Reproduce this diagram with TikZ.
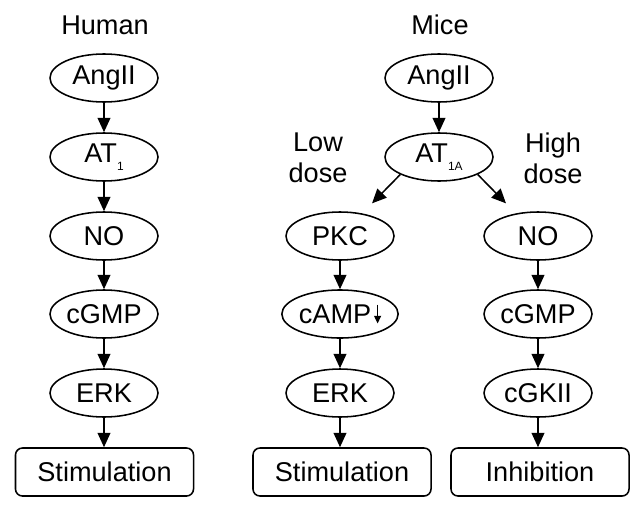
\documentclass[tikz,border=0pt]{standalone}
\usepackage{graphicx}
\usepackage{fontspec}
\setmainfont{Liberation Sans}
\usetikzlibrary{arrows.meta,shapes.geometric}
\def\lowsub#1{\raisebox{-0.55ex}{\fontsize{8.5}{8.5}\selectfont #1}}
\def\downmark{\hspace{2pt}\tikz[baseline=0pt]\draw[line width=0.9pt,-{Triangle[length=5.5pt,width=5pt]}] (0pt,13.5pt) -- (0pt,0pt);}

\begin{document}
\begin{tikzpicture}[x=0.025cm,y=-0.025cm,
  font=\fontsize{19.3}{22}\selectfont,
  oval/.style={draw, line width=1.1pt, shape=ellipse, minimum width=2.7cm, minimum height=1.2cm, inner sep=0pt},
  outcome/.style={draw, line width=1.1pt, rounded corners=5pt, minimum width=4.45cm, minimum height=1.2cm, inner sep=0pt},
  flow/.style={line width=1.1pt, -{Triangle[length=0.36cm,width=0.32cm]}}]
\useasboundingbox (0,0) rectangle (642,513);
% human pathway
\node (human) at (105,25) {Human};
\node[oval] (h_ang) at (104,78) {AngII};
\node[oval] (h_at) at (104,157) {AT\lowsub{1}};
\node[oval] (h_no) at (104,236) {NO};
\node[oval] (h_cgmp) at (104,314) {cGMP};
\node[oval] (h_erk) at (104,393) {ERK};
\node[outcome] (h_stim) at (104.5,472) {Stimulation};
% mouse pathway
\node (mice) at (440,25) {Mice};
\node[oval] (m_ang) at (439,78) {AngII};
\node[oval] (m_at) at (439,157) {AT\lowsub{1A}};
\node[align=center] (low) at (318,158) {Low\\dose};
\node[align=center] (high) at (553,158) {High\\dose};
% low dose branch
\node[oval] (l_pkc) at (340,236) {PKC};
\node[oval] (l_camp) at (340,314) {cAMP\downmark};
\node[oval] (l_erk) at (340,393) {ERK};
\node[outcome] (l_stim) at (342,472) {Stimulation};
% high dose branch
\node[oval] (r_no) at (538,236) {NO};
\node[oval] (r_cgmp) at (538,314) {cGMP};
\node[oval] (r_cgk) at (538,393) {cGKII};
\node[outcome] (r_inh) at (540,472) {Inhibition};

\foreach \a/\b in {h_ang/h_at, h_at/h_no, h_no/h_cgmp, h_cgmp/h_erk, m_ang/m_at,
  l_pkc/l_camp, l_camp/l_erk, r_no/r_cgmp, r_cgmp/r_cgk}
  \draw[flow] (\a) -- (\b);
\draw[flow] (h_erk) -- (h_erk |- h_stim.north);
\draw[flow] (l_erk) -- (l_erk |- l_stim.north);
\draw[flow] (r_cgk) -- (r_cgk |- r_inh.north);
\draw[flow, shorten >=0.35cm] (m_at.south west) -- (l_pkc);
\draw[flow, shorten >=0.35cm] (m_at.south east) -- (r_no);
\end{tikzpicture}
\end{document}
